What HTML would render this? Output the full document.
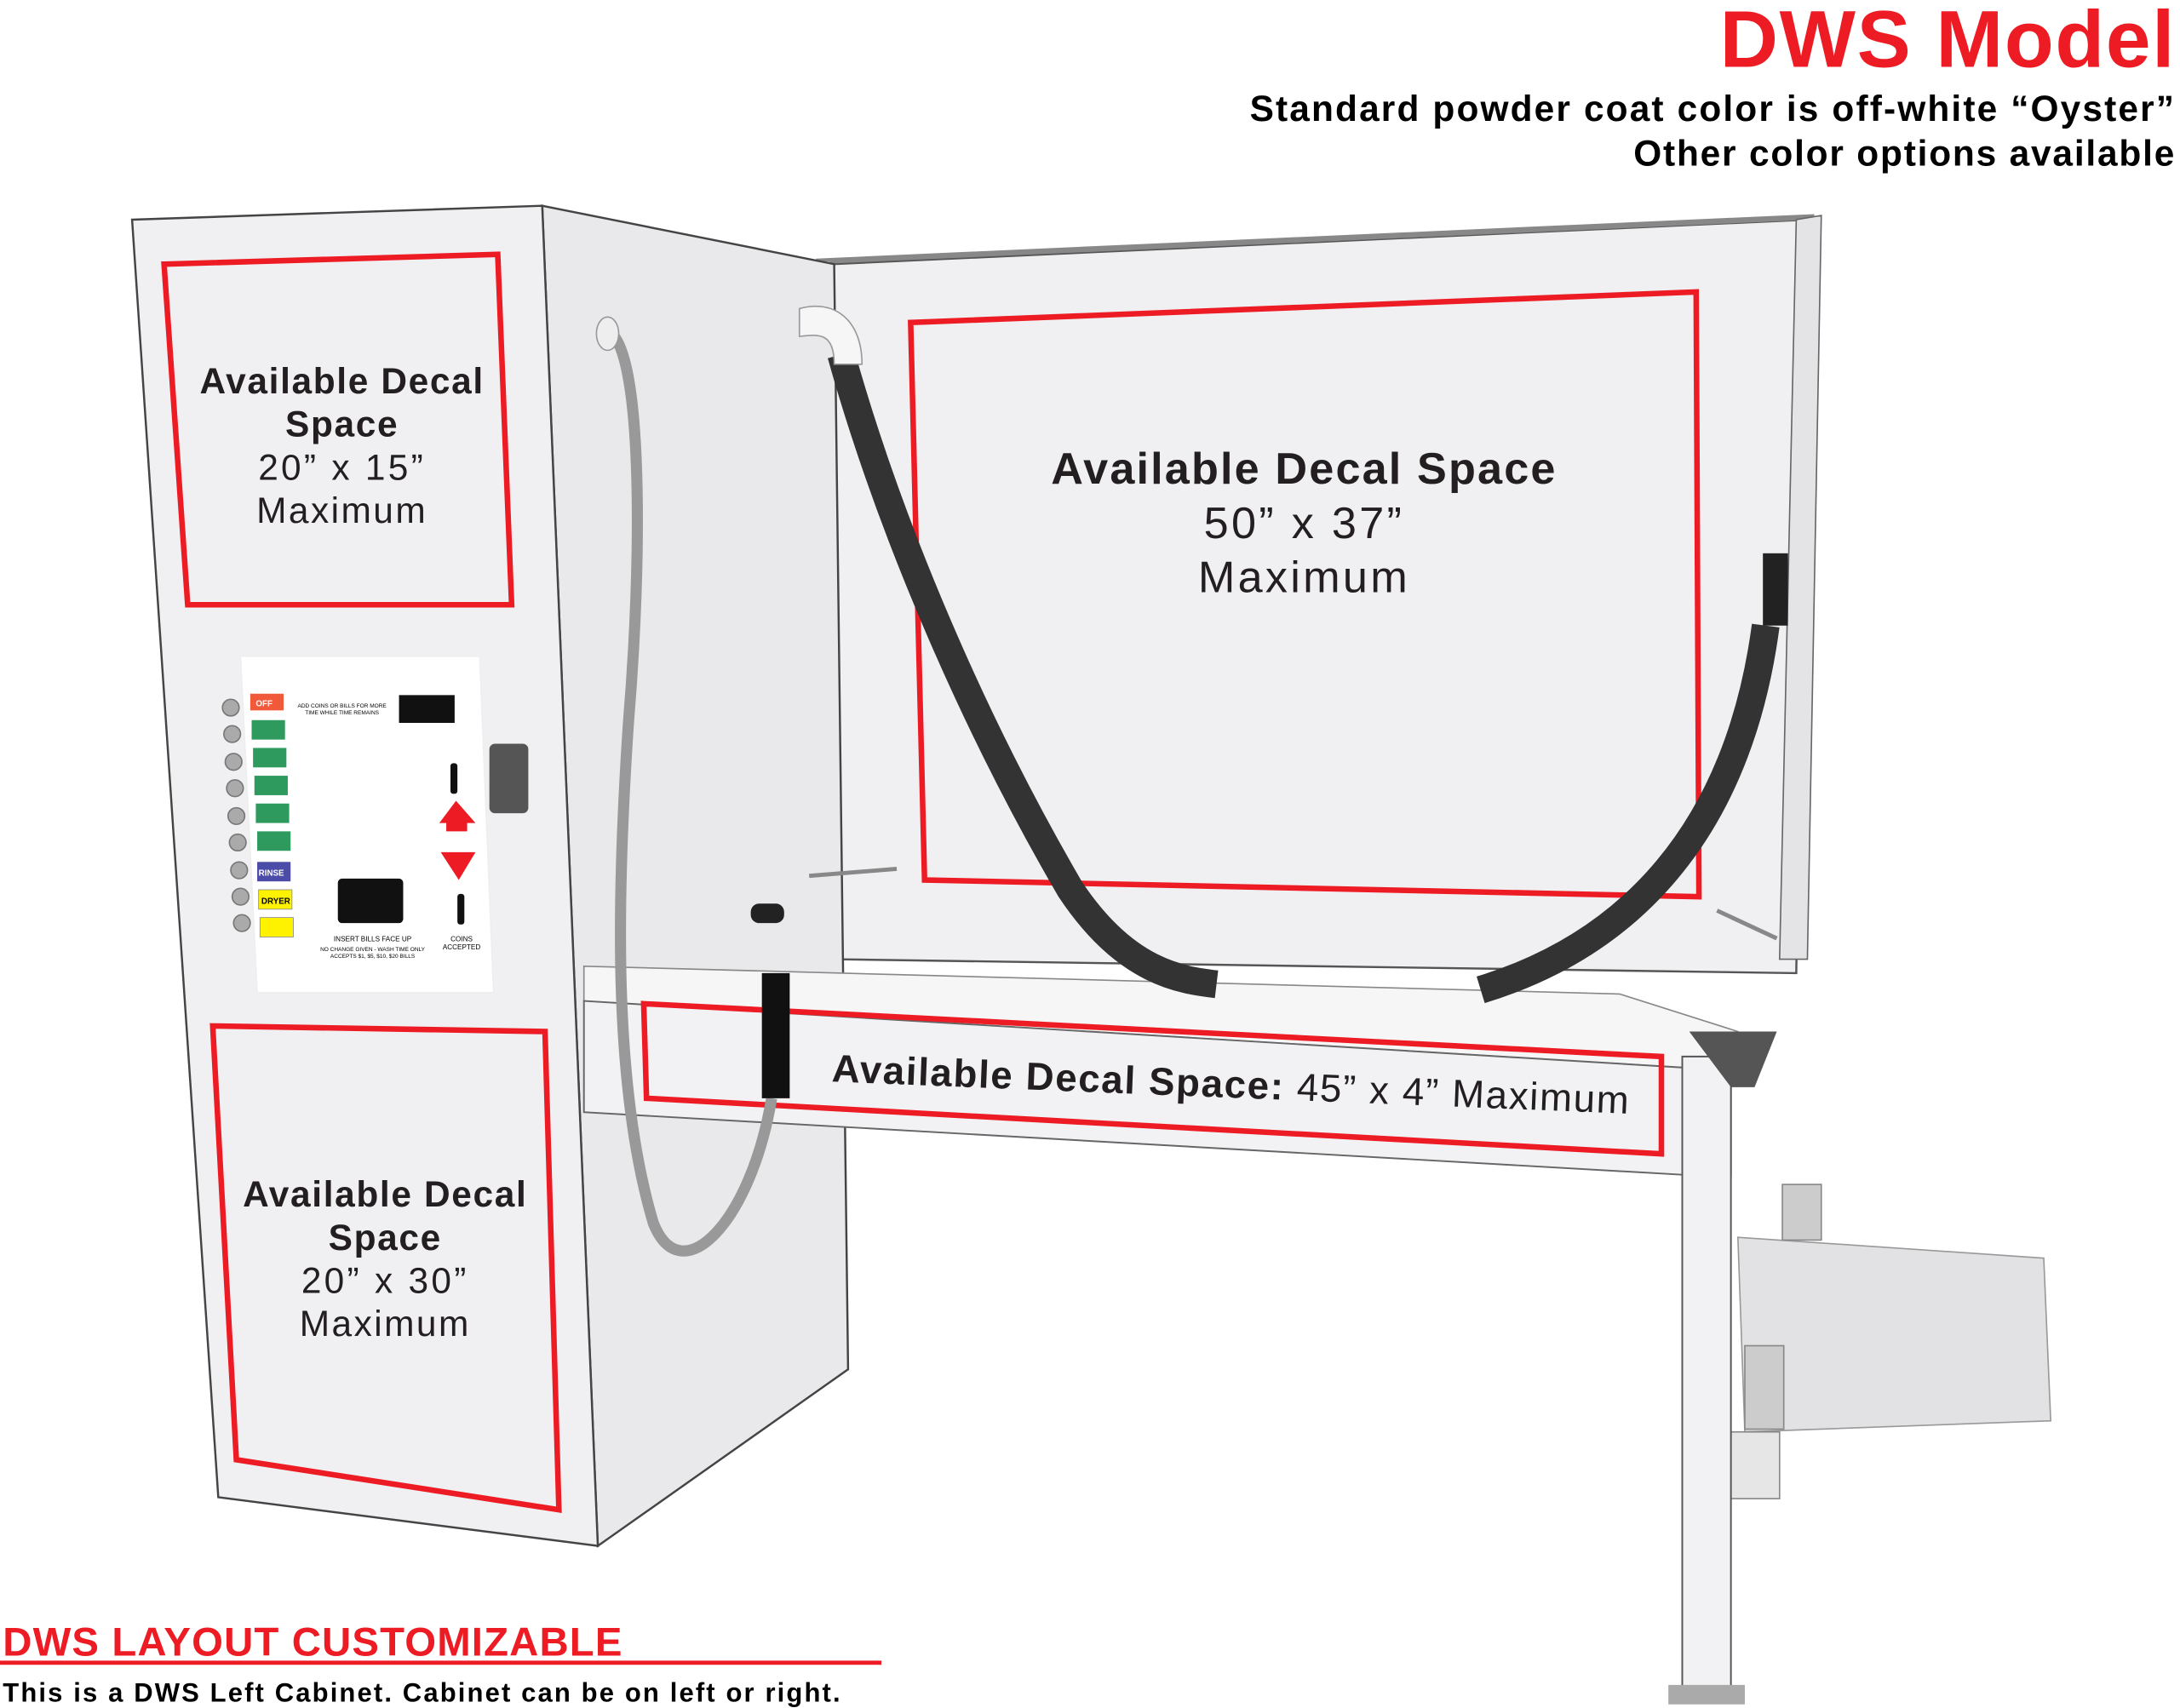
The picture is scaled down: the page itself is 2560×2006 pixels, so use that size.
<!DOCTYPE html>
<html><head><meta charset="utf-8"><style>
html,body{margin:0;padding:0;background:#fff}
svg{display:block}
text{font-family:"Liberation Sans",sans-serif}
</style></head><body>
<svg width="2560" height="2006" viewBox="0 0 1568 1228.6" preserveAspectRatio="none" xmlns="http://www.w3.org/2000/svg">
<rect width="1568" height="1229" fill="#fff"/>
<!-- back panel -->
<polygon points="598,190 1300,158 1292,700 600,690" fill="#f0f0f2" stroke="#555" stroke-width="1.5"/>
<line x1="587" y1="188" x2="1305" y2="156" stroke="#888" stroke-width="4"/>
<polygon points="1292,158 1310,155 1300,690 1280,690" fill="#e4e4e6" stroke="#666" stroke-width="1"/>
<rect x="587" y="188" width="10" height="30" fill="#bbb"/>
<!-- step -->
<polygon points="1250,890 1470,905 1475,1022 1255,1030" fill="#e2e2e4" stroke="#999"/>
<rect x="1282" y="852" width="28" height="40" fill="#ccc" stroke="#888"/>
<rect x="1255" y="968" width="28" height="60" fill="#ccc" stroke="#888"/>
<rect x="1245" y="1030" width="35" height="48" fill="#e6e6e6" stroke="#888"/>
<!-- cabinet side -->
<polygon points="390,148 600,190 610,985 430,1112" fill="#e9e9eb" stroke="#444" stroke-width="1.5"/>
<!-- cabinet front -->
<polygon points="95,158 390,148 430,1112 157,1077" fill="#f0f0f2" stroke="#444" stroke-width="1.5"/>
<!-- counter -->
<polygon points="420,695 1165,715 1250,742 1245,770 420,720" fill="#f6f6f6" stroke="#888" stroke-width="1"/>
<polygon points="420,720 1245,770 1245,845 1210,845 420,800" fill="#f2f2f4" stroke="#666" stroke-width="1.2"/>
<polygon points="1210,760 1245,760 1245,1220 1210,1220" fill="#f2f2f4" stroke="#555" stroke-width="1.2"/>
<polygon points="1215,742 1278,742 1262,782 1245,782" fill="#555"/>
<rect x="1200" y="1212" width="55" height="14" fill="#aaa"/>
<!-- red boxes -->
<g fill="none" stroke="#ed1c24" stroke-width="4">
<polygon points="118,190 358,183 368,435 135,435"/>
<polygon points="655,232 1220,210 1222,645 665,633"/>
<polygon points="153,738 392,742 402,1086 170,1050"/>
<polygon points="463,722 1195,760 1195,830 465,790"/>
</g>
<!-- hoses -->
<path d="M605,255 C640,380 700,520 770,640 C810,700 850,705 875,708" fill="none" stroke="#333" stroke-width="20"/>
<path d="M1065,712 C1170,680 1250,600 1270,450" fill="none" stroke="#333" stroke-width="20"/>
<path d="M575,222 C600,215 620,230 620,262 L600,262 C600,240 590,240 575,242 Z" fill="#f6f6f6" stroke="#999"/>
<rect x="1268" y="398" width="18" height="52" fill="#222"/>
<path d="M440,240 C462,260 462,400 452,520 C444,640 440,780 470,880 C490,930 540,880 555,790" fill="none" stroke="#999" stroke-width="8"/>
<ellipse cx="437" cy="240" rx="8" ry="12" fill="#eee" stroke="#999"/>
<rect x="548" y="700" width="20" height="90" fill="#111"/>
<rect x="540" y="650" width="24" height="14" rx="6" fill="#222"/>
<line x1="582" y1="630" x2="645" y2="625" stroke="#888" stroke-width="3"/>
<line x1="1235" y1="655" x2="1278" y2="675" stroke="#888" stroke-width="3"/>
<!-- control panel -->
<polygon points="173,472 345,472 355,714 185,714" fill="#fff" stroke="#eee"/>
<g fill="#aaa" stroke="#777">
<circle cx="166" cy="509" r="6"/><circle cx="167" cy="528" r="6"/><circle cx="168" cy="548" r="6"/><circle cx="169" cy="567" r="6"/><circle cx="170" cy="587" r="6"/><circle cx="171" cy="606" r="6"/><circle cx="172" cy="626" r="6"/><circle cx="173" cy="645" r="6"/><circle cx="174" cy="664" r="6"/></g>
<rect x="180" y="499" width="24" height="12" fill="#f05a3a"/>
<rect x="181" y="518" width="24" height="14" fill="#2e9a5e"/>
<rect x="182" y="538" width="24" height="14" fill="#2e9a5e"/>
<rect x="183" y="558" width="24" height="14" fill="#2e9a5e"/>
<rect x="184" y="578" width="24" height="14" fill="#2e9a5e"/>
<rect x="185" y="598" width="24" height="14" fill="#2e9a5e"/>
<rect x="185" y="620" width="24" height="14" fill="#4b4ba8"/>
<rect x="186" y="640" width="24" height="14" fill="#fff200" stroke="#888" stroke-width=".5"/>
<rect x="187" y="660" width="24" height="14" fill="#fff200" stroke="#888" stroke-width=".5"/>
<g font-size="6" fill="#fff" font-weight="bold"><text x="184" y="508">OFF</text><text x="186" y="630">RINSE</text></g>
<text x="188" y="650" font-size="6" font-weight="bold">DRYER</text>
<rect x="287" y="500" width="40" height="20" fill="#111"/>
<text x="246" y="509" font-size="4" text-anchor="middle">ADD COINS OR BILLS FOR MORE</text>
<text x="246" y="514" font-size="4" text-anchor="middle">TIME WHILE TIME REMAINS</text>
<rect x="243" y="632" width="47" height="32" rx="3" fill="#111"/>
<rect x="324" y="549" width="5" height="22" rx="2" fill="#111"/>
<rect x="329" y="643" width="5" height="22" rx="2" fill="#111"/>
<polygon points="328,576 342,592 316,592" fill="#ed1c24"/><rect x="321" y="590" width="15" height="8" fill="#ed1c24"/>
<polygon points="317,613 342,613 330,633" fill="#ed1c24"/>
<text x="268" y="677" font-size="5" text-anchor="middle">INSERT BILLS FACE UP</text>
<text x="268" y="684" font-size="4" text-anchor="middle">NO CHANGE GIVEN - WASH TIME ONLY</text>
<text x="268" y="689" font-size="4" text-anchor="middle">ACCEPTS $1, $5, $10, $20 BILLS</text>
<text x="332" y="677" font-size="5" text-anchor="middle">COINS</text>
<text x="332" y="683" font-size="5" text-anchor="middle">ACCEPTED</text>
<rect x="352" y="535" width="28" height="50" rx="4" fill="#555"/>
<!-- decal texts -->
<g text-anchor="middle" fill="#231f20" letter-spacing="1">
<text x="246" y="283" font-size="26" font-weight="bold">Available Decal</text>
<text x="246" y="314" font-size="26" font-weight="bold">Space</text>
<text x="246" y="345" font-size="26" letter-spacing="2">20” x 15”</text>
<text x="246" y="376" font-size="26" letter-spacing="1.5">Maximum</text>
<text x="938" y="348" font-size="32" font-weight="bold" letter-spacing="1.3">Available Decal Space</text>
<text x="938" y="387" font-size="32" letter-spacing="2">50” x 37”</text>
<text x="938" y="426" font-size="32" letter-spacing="2">Maximum</text>
<text x="277" y="868" font-size="26" font-weight="bold">Available Decal</text>
<text x="277" y="899" font-size="26" font-weight="bold">Space</text>
<text x="277" y="930" font-size="26" letter-spacing="2">20” x 30”</text>
<text x="277" y="961" font-size="26" letter-spacing="1.5">Maximum</text>
</g>
<text x="598" y="778" font-size="28" fill="#231f20" letter-spacing="1" transform="rotate(2.3 598 778)"><tspan font-weight="bold">Available Decal Space:</tspan> 45” x 4” Maximum</text>
<!-- header -->
<text x="1565" y="48" font-size="58" font-weight="bold" fill="#ed1c24" text-anchor="end" letter-spacing="1">DWS Model</text>
<text x="1565" y="87" font-size="26" font-weight="bold" text-anchor="end" letter-spacing="1.3">Standard powder coat color is off-white “Oyster”</text>
<text x="1565" y="119" font-size="26" font-weight="bold" text-anchor="end" letter-spacing="1.1">Other color options available</text>
<text x="2" y="1191" font-size="29" font-weight="bold" fill="#ed1c24" letter-spacing="0.7">DWS LAYOUT CUSTOMIZABLE</text>
<line x1="0" y1="1196" x2="634" y2="1196" stroke="#ed1c24" stroke-width="3"/>
<text x="2" y="1224" font-size="19" font-weight="bold" letter-spacing="1.3">This is a DWS Left Cabinet. Cabinet can be on left or right.</text>
</svg>
</body></html>
